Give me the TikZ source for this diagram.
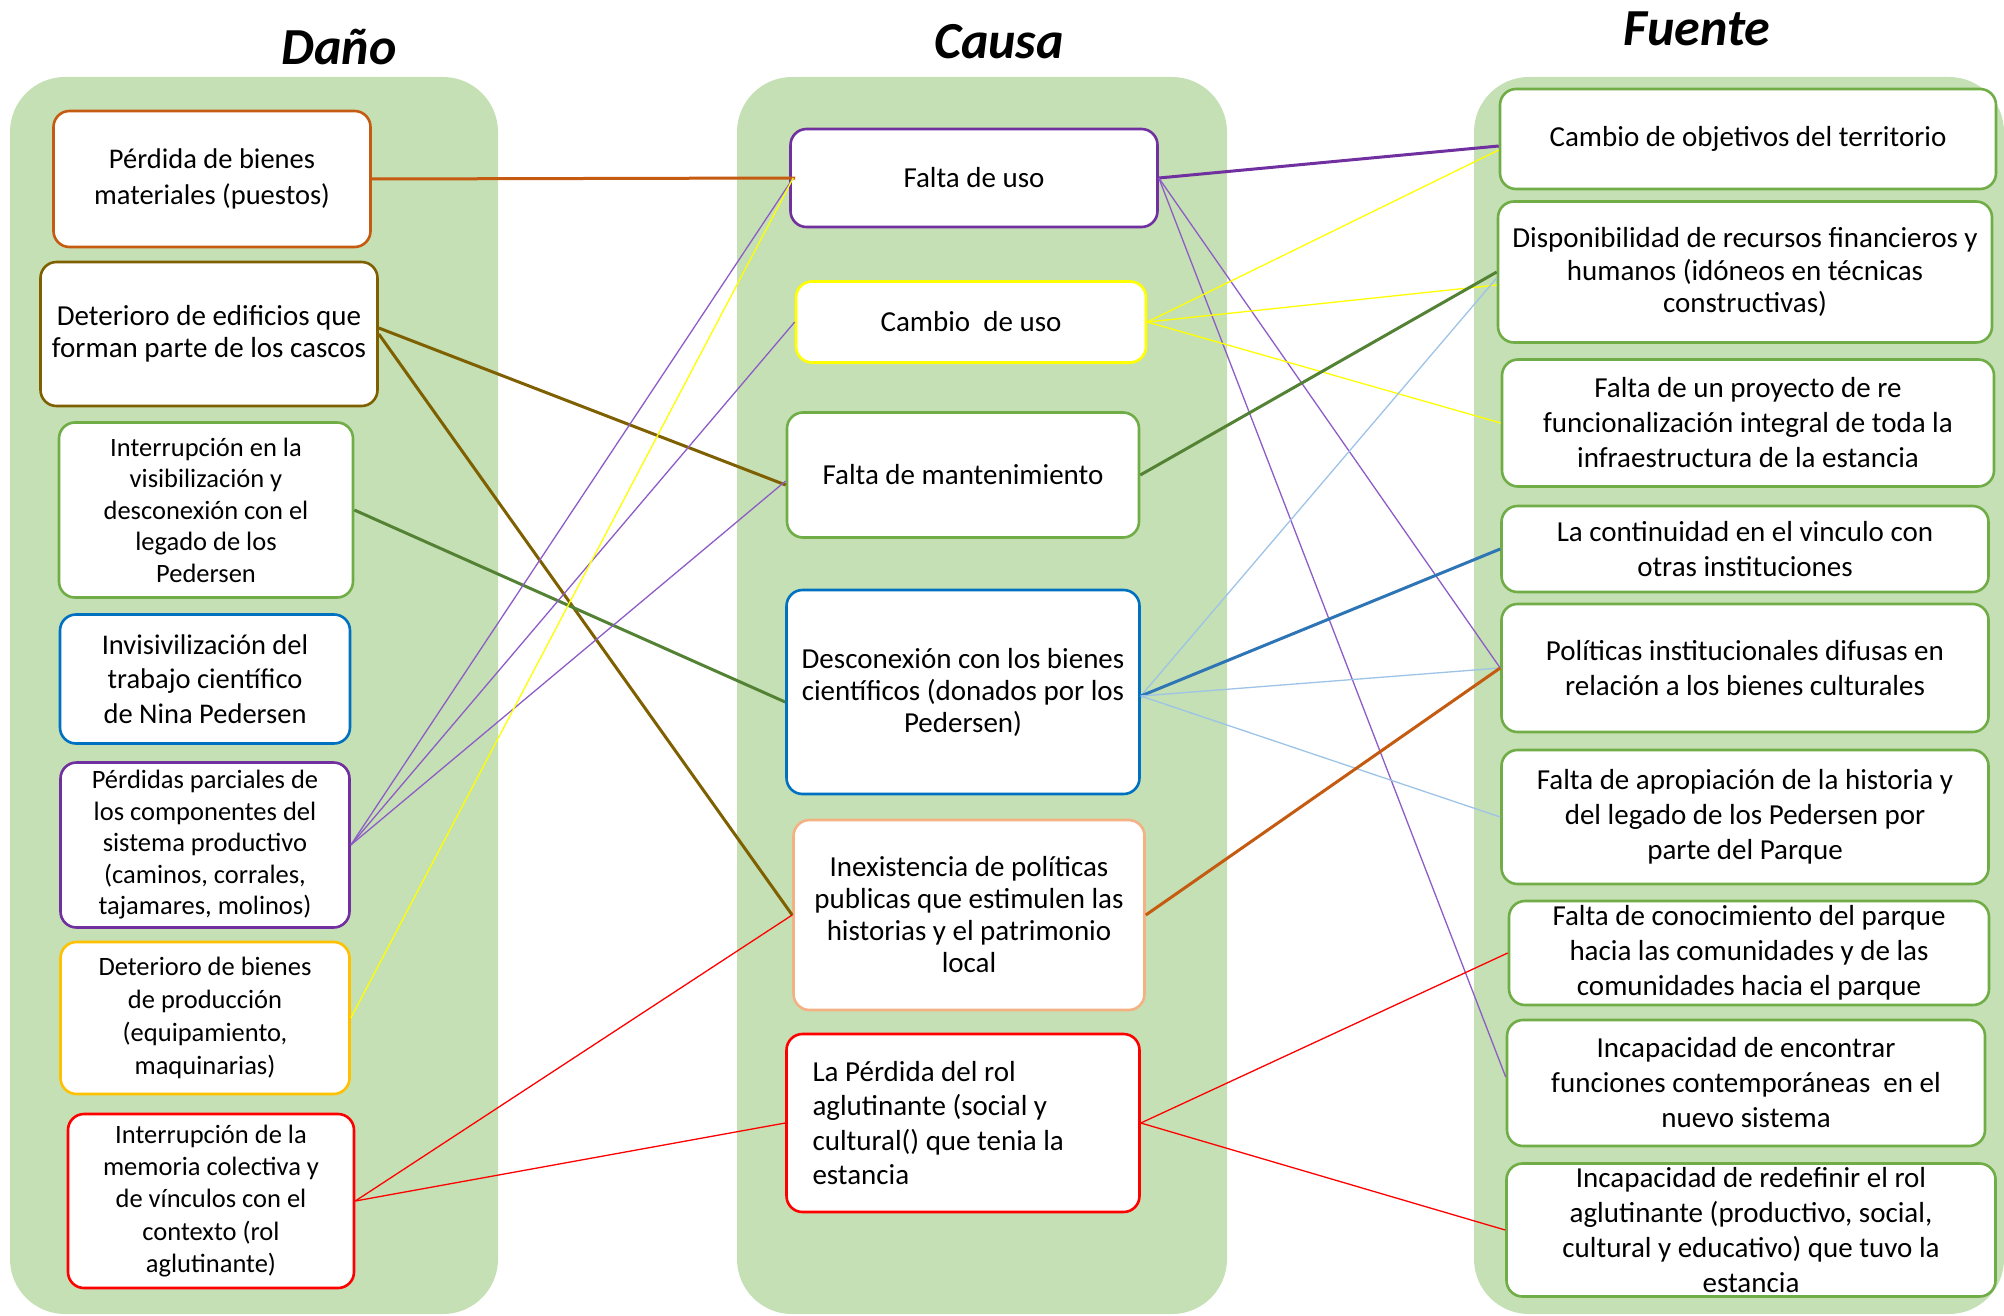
\documentclass[tikz,border=0pt]{standalone}
\usepackage{fontspec}
\setmainfont{Carlito}
\definecolor{panelgreen}{HTML}{C5E0B4}
\definecolor{dorange}{HTML}{C55A11}
\definecolor{dbrown}{HTML}{7F6000}
\definecolor{lgreen}{HTML}{70AD47}
\definecolor{dgreen}{HTML}{548235}
\definecolor{dblue}{HTML}{0070C0}
\definecolor{mblue}{HTML}{2E75B6}
\definecolor{lblue}{HTML}{9DC3E6}
\definecolor{dpurple}{HTML}{7030A0}
\definecolor{lpurple}{HTML}{8E5CC6}
\definecolor{gold}{HTML}{FFC000}
\definecolor{yel}{HTML}{FFFF00}
\definecolor{peach}{HTML}{F4B183}
\definecolor{rd}{HTML}{FF0000}
\newcommand{\fs}[2]{\fontsize{#1}{#2}\selectfont}

\begin{document}
\begin{tikzpicture}[x=1pt,y=-1pt,
    cbox/.style={draw=#1,fill=white,line width=2.6pt,rounded corners=16pt,
      align=center,inner sep=0pt,font=\fs{29}{35}},
    lnk/.style={draw=#1,line width=3pt},
    thn/.style={draw=#1,line width=1.3pt},
    ttl/.style={font=\fs{52}{60}\bfseries\itshape}]
  \useasboundingbox (0,0) rectangle (2004,1316);

  % columns
  \fill[panelgreen,rounded corners=55pt] (10,77) rectangle (498,1314);
  \fill[panelgreen,rounded corners=55pt] (737,77) rectangle (1227,1314);
  \fill[panelgreen,rounded corners=55pt] (1474,77) rectangle (2004,1314);

  \node[ttl] (tD) at (339,47) {Daño};
  \node[ttl] (tC) at (999,42) {Causa};
  \node[ttl] (tF) at (1697,29) {Fuente};

  % dano
  \node[cbox=dorange,minimum width=317pt,minimum height=136pt,font=\fs{28.5}{36}] (L1) at (212,179)
    {Pérdida de bienes\\materiales (puestos)};
  \node[cbox=dbrown,minimum width=337pt,minimum height=144pt,font=\fs{29}{32}] (L2) at (209,334)
    {Deterioro de edificios que\\forman parte de los cascos};
  \node[cbox=lgreen,minimum width=294pt,minimum height=175pt,font=\fs{26.5}{31.5}] (L3) at (206,510)
    {Interrupción en la\\visibilización y\\desconexión con el\\legado de los\\Pedersen};
  \node[cbox=dblue,minimum width=290pt,minimum height=129pt,font=\fs{28.5}{34.5}] (L4) at (205,679)
    {Invisivilización del\\trabajo científico\\de Nina Pedersen};
  \node[cbox=dpurple,minimum width=289pt,minimum height=165pt,font=\fs{26.5}{31.5}] (L5) at (205,845)
    {Pérdidas parciales de\\los componentes del\\sistema productivo\\(caminos, corrales,\\tajamares, molinos)};
  \node[cbox=gold,minimum width=289pt,minimum height=152pt,font=\fs{26.5}{32.8}] (L6) at (205,1018)
    {Deterioro de bienes\\de producción\\(equipamiento,\\maquinarias)};
  \node[cbox=rd,minimum width=286pt,minimum height=174pt,font=\fs{26.5}{32.3}] (L7) at (211,1201)
    {Interrupción de la\\memoria colectiva y\\de vínculos con el\\contexto (rol\\aglutinante)};

  % causa
  \node[cbox=dpurple,minimum width=367pt,minimum height=98pt] (M1) at (974,178) {Falta de uso};
  \node[cbox=yel,minimum width=350pt,minimum height=81pt] (M2) at (971,322) {Cambio\ \ de uso};
  \node[cbox=lgreen,minimum width=352pt,minimum height=125pt] (M3) at (963,475) {Falta de mantenimiento};
  \node[cbox=dblue,minimum width=353pt,minimum height=204pt,font=\fs{29}{32}] (M4) at (963,692)
    {Desconexión con los bienes\\científicos (donados por los\\Pedersen)};
  \node[cbox=peach,minimum width=351pt,minimum height=190pt,font=\fs{29}{32}] (M5) at (969,915)
    {Inexistencia de políticas\\publicas que estimulen las\\historias y el patrimonio\\local};
  \node[cbox=rd,minimum width=353pt,minimum height=178pt,text width=301pt,align=flush left,font=\fs{29}{34.5}] (M6) at (963,1123)
    {La Pérdida del rol\\aglutinante (social y\\cultural() que tenia la\\estancia};

  % fuente
  \node[cbox=lgreen,minimum width=496pt,minimum height=100pt] (R1) at (1748,139)
    {Cambio de objetivos del territorio};
  \node[cbox=lgreen,minimum width=494pt,minimum height=141pt,font=\fs{29}{32.6}] (R2) at (1745,272)
    {Disponibilidad de recursos financieros y\\humanos (idóneos en técnicas\\constructivas)};
  \node[cbox=lgreen,minimum width=492pt,minimum height=127pt] (R3) at (1748,423)
    {Falta de un proyecto de re\\funcionalización integral de toda la\\infraestructura de la estancia};
  \node[cbox=lgreen,minimum width=487pt,minimum height=86pt] (R4) at (1745,549)
    {La continuidad en el vinculo con\\otras instituciones};
  \node[cbox=lgreen,minimum width=487pt,minimum height=128pt] (R5) at (1745,668)
    {Políticas institucionales difusas en\\relación a los bienes culturales};
  \node[cbox=lgreen,minimum width=487pt,minimum height=134pt] (R6) at (1745,817)
    {Falta de apropiación de la historia y\\del legado de los Pedersen por\\parte del Parque};
  \node[cbox=lgreen,minimum width=480pt,minimum height=104pt] (R7) at (1749,953)
    {Falta de conocimiento del parque\\hacia las comunidades y de las\\comunidades hacia el parque};
  \node[cbox=lgreen,minimum width=478pt,minimum height=126pt] (R8) at (1746,1083)
    {Incapacidad de encontrar\\funciones contemporáneas\ \ en el\\nuevo sistema};
  \node[cbox=lgreen,minimum width=489pt,minimum height=133pt] (R9) at (1751,1230)
    {Incapacidad de redefinir el rol\\aglutinante (productivo, social,\\cultural y educativo) que tuvo la\\estancia};

  % dano -> causa
  \path (L1.east) edge[lnk=dorange] ([xshift=6pt]M1.west);
  \path ([yshift=6pt]L2.east) edge[lnk=dbrown] ([yshift=-10pt]M3.west);
  \path (L2.east) edge[lnk=dbrown] (M5.west);
  \path (L3.east) edge[lnk=dgreen] ([yshift=-10pt]M4.west);
  \path (L5.east) edge[thn=lpurple] ([xshift=4pt]M1.west)
                  edge[thn=lpurple] (M2.west)
                  edge[thn=lpurple] ([yshift=-6pt]M3.west);
  \path (L6.east) edge[thn=yel] ([xshift=4pt]M1.west);
  \path (L7.east) edge[thn=rd] (M5.west)
                  edge[thn=rd] (M6.west);

  % causa -> fuente
  \path (M1.east) edge[lnk=dpurple] ([yshift=-7pt]R1.west)
                  edge[thn=lpurple] (R5.west)
                  edge[thn=lpurple] ([yshift=6pt]R8.west);
  \path (M2.east) edge[thn=yel] ([yshift=-11pt]R1.west)
                  edge[thn=yel] ([yshift=-13pt]R2.west)
                  edge[thn=yel] (R3.west);
  \path (M3.east) edge[lnk=dgreen] (R2.west);
  \path ([yshift=-4pt]M4.east) edge[thn=lblue] ([yshift=-6pt]R2.west)
                  edge[lnk=mblue] (R4.west)
                  edge[thn=lblue] (R5.west)
                  edge[thn=lblue] (R6.west);
  \path (M5.east) edge[lnk=dorange] (R5.west);
  \path (M6.east) edge[thn=rd] (R7.west)
                  edge[thn=rd] (R9.west);
\end{tikzpicture}
\end{document}
